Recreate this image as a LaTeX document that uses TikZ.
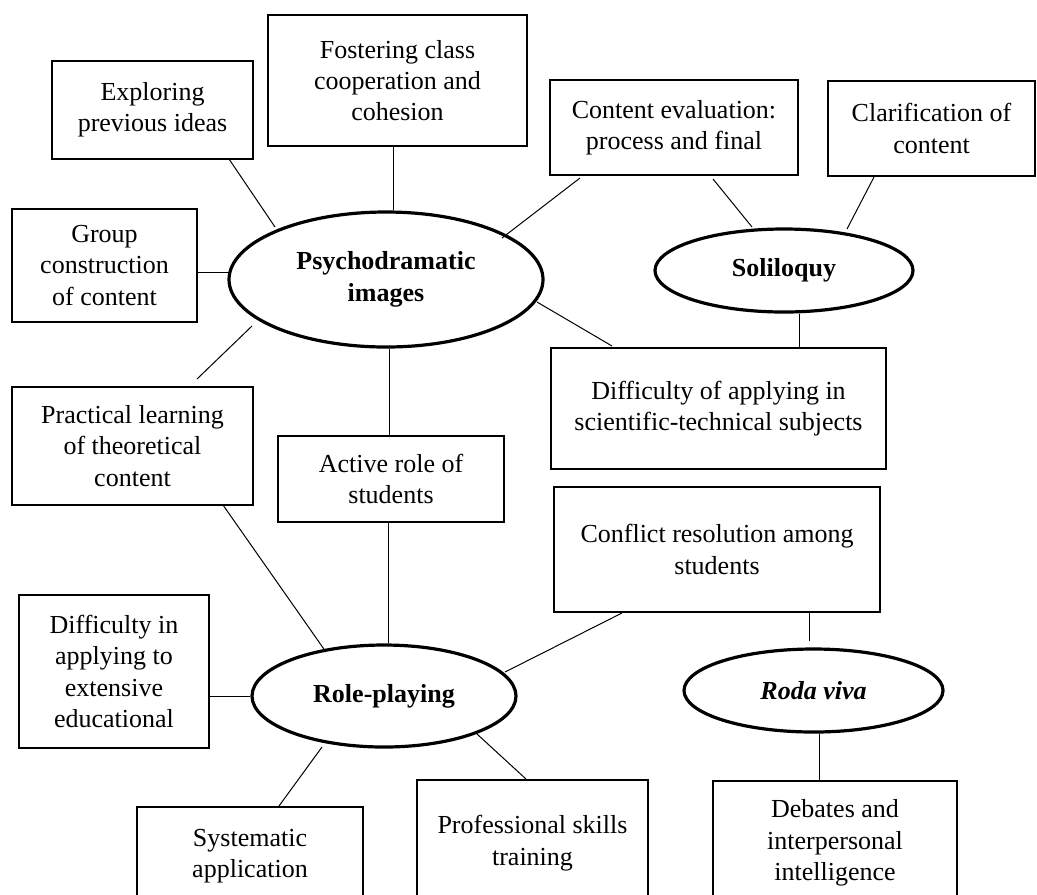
\documentclass[tikz,border=0pt]{standalone}
\usepackage{fontspec}
\setmainfont{Liberation Serif}
\usetikzlibrary{shapes.geometric,calc}
\begin{document}
\begin{tikzpicture}[x=0.75pt,y=-0.75pt,
  every node/.style={font=\fontsize{19.5}{23.5}\selectfont},
  box/.style={draw, line width=1.3pt, rectangle, inner sep=0pt, align=center},
  topic/.style={draw, line width=2.4pt, ellipse, inner sep=0pt, align=center, font=\fontsize{19.5}{23.5}\selectfont\bfseries},
  link/.style={line width=0.75pt}]
\useasboundingbox (0,0) rectangle (1037,894);
% boxes
\node[box, minimum width=201*0.75pt, minimum height=98*0.75pt] (exp) at (152.5,110) {Exploring\\previous ideas};
\node[box, minimum width=259*0.75pt, minimum height=131*0.75pt] (fos) at (397.5,80.5) {Fostering class\\cooperation and\\cohesion};
\node[box, minimum width=185*0.75pt, minimum height=113*0.75pt] (grp) at (104.5,265.5) {Group\\construction\\of content};
\node[box, minimum width=241*0.75pt, minimum height=118*0.75pt] (prac) at (132.5,446) {Practical learning\\of theoretical\\content};
\node[box, minimum width=226*0.75pt, minimum height=86*0.75pt] (act) at (391,479) {Active role of\\students};
\node[box, minimum width=248*0.75pt, minimum height=95*0.75pt] (ceval) at (674,127.5) {Content evaluation:\\process and final};
\node[box, minimum width=207*0.75pt, minimum height=95*0.75pt] (clar) at (931.5,128.5) {Clarification of\\content};
\node[box, minimum width=335*0.75pt, minimum height=121*0.75pt] (diff) at (718.5,408.5) {Difficulty of applying in\\scientific-technical subjects};
\node[box, minimum width=326*0.75pt, minimum height=125*0.75pt] (conf) at (717,549.5) {Conflict resolution among\\students};
\node[box, minimum width=190*0.75pt, minimum height=153*0.75pt] (diffin) at (114,671.5) {Difficulty in\\applying to\\extensive\\educational};
\node[box, minimum width=226*0.75pt, minimum height=98*0.75pt] (sys) at (250,856) {Systematic\\application};
\node[box, minimum width=231*0.75pt, minimum height=126*0.75pt] (prof) at (532.5,843) {Professional skills\\training};
\node[box, minimum width=244*0.75pt, minimum height=124*0.75pt] (deb) at (835,843) {Debates and\\interpersonal\\intelligence};
% ellipses
\node[topic, minimum width=314*0.75pt, minimum height=135*0.75pt] (psy) at (386,279.5) {Psychodramatic\\images};
\node[topic, minimum width=258*0.75pt, minimum height=83*0.75pt] (sol) at (784,270.5) {Soliloquy};
\node[topic, minimum width=264*0.75pt, minimum height=102*0.75pt] (role) at (384,696) {Role-playing};
\node[topic, minimum width=259*0.75pt, minimum height=83*0.75pt, font=\fontsize{19.5}{23.5}\selectfont\bfseries\itshape] (roda) at (813.5,690.5) {Roda viva};
% connectors
\draw[link] ($(exp)+(76.5,49)$) -- ($(psy)+(-111,-52.5)$);
\draw[link] ($(fos.south)+(-4.5,0)$) -- ($(psy.north)+(7,0)$);
\draw[link] ($(grp.east)+(0,6.5)$) -- ($(psy)+(-157,-7.5)$);
\draw[link] ($(prac)+(64.5,-67)$) -- ($(psy)+(-134,46.5)$);
\draw[link] ($(psy.south)+(3,0)$) -- ($(act.north)+(-2,0)$);
\draw[link] ($(ceval)+(-94,50.5)$) -- ($(psy)+(116,-41.5)$);
\draw[link] ($(ceval)+(39,51.5)$) -- ($(sol)+(-32,-43.5)$);
\draw[link] ($(clar)+(-57.5,48.5)$) -- ($(sol)+(63,-41.5)$);
\draw[link] ($(psy)+(151,22.5)$) -- ($(diff)+(-106.5,-62.5)$);
\draw[link] ($(sol.south)+(15,0)$) -- ($(diff.north)+(80.5,0)$);
\draw[link] ($(prac)+(90.5,59)$) -- ($(role)+(-58,-44)$);
\draw[link] ($(act.south)+(-3,0)$) -- ($(role.north)+(4,0)$);
\draw[link] ($(diffin.east)+(0,24.5)$) -- (role.west);
\draw[link] ($(role)+(-62,51)$) -- ($(sys)+(29,-50)$);
\draw[link] ($(role)+(93,38)$) -- ($(prof)+(-6.5,-64)$);
\draw[link] ($(conf)+(-95,63.5)$) -- ($(role)+(121,-24)$);
\draw[link] ($(conf.south)+(92,0)$) -- ($(roda.north)+(-4.5,-6)$);
\draw[link] ($(roda.south)+(5.5,0)$) -- ($(deb.north)+(-16,0)$);
\end{tikzpicture}
\end{document}
